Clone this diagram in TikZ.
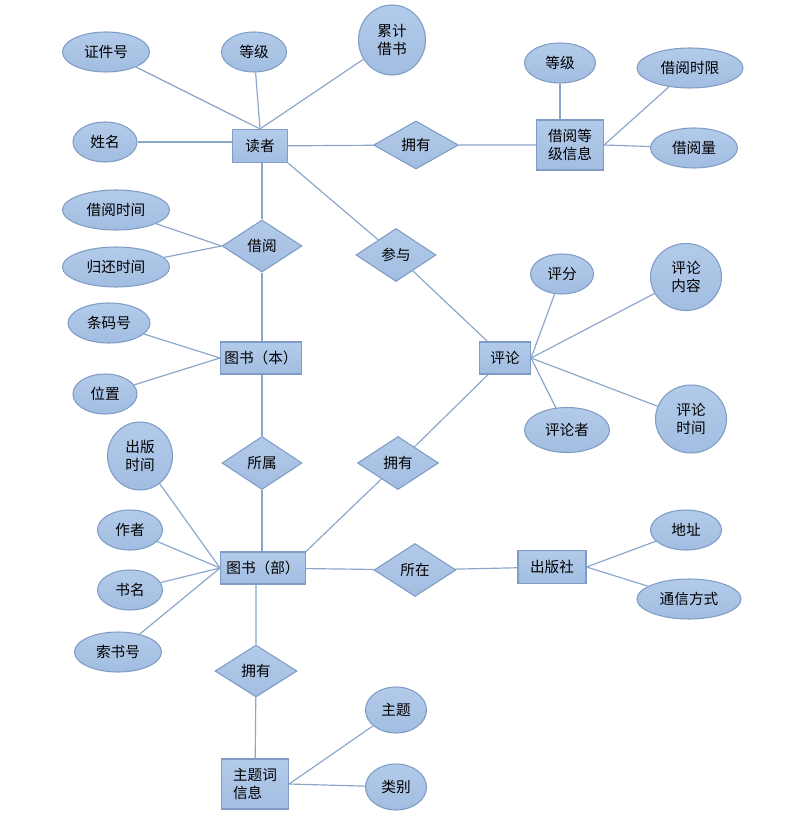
\documentclass[tikz,border=0pt]{standalone}
\usepackage{fontspec}
\setmainfont{Noto Sans CJK SC}
\usetikzlibrary{shapes.geometric}
\definecolor{shapetop}{HTML}{B3CBEA}
\definecolor{shapebot}{HTML}{A2BDE1}
\definecolor{shapeline}{HTML}{7E9CC5}
\definecolor{linkline}{HTML}{8BA6C9}
\begin{document}
\begin{tikzpicture}[x=0.03cm, y=-0.03cm,
    every node/.style={font=\fontsize{12.5}{15}\selectfont, inner sep=0pt,
        draw=shapeline, line width=0.9pt, top color=shapetop, bottom color=shapebot},
    entity/.style={rectangle},
    relation/.style={diamond},
    attr/.style={ellipse},
    link/.style={draw=linkline, line width=1pt}]
\useasboundingbox (0,0) rectangle (805,825);
% entities
\node[entity, minimum width=55*0.03cm, minimum height=33*0.03cm] (dz) at (260,146) {读者};
\node[entity, minimum width=67*0.03cm, minimum height=50*0.03cm, align=center] (jdxx) at (570,145) {借阅等\\级信息};
\node[entity, minimum width=81*0.03cm, minimum height=32*0.03cm] (tsb) at (261,358) {图书（本）};
\node[entity, minimum width=51*0.03cm, minimum height=32*0.03cm] (pl) at (505,358) {评论};
\node[entity, minimum width=85*0.03cm, minimum height=32*0.03cm] (tsbu) at (263,568) {图书（部）};
\node[entity, minimum width=68*0.03cm, minimum height=33*0.03cm] (cbs) at (552,567) {出版社};
\node[entity, minimum width=67*0.03cm, minimum height=50*0.03cm, align=left] (ztc) at (255,784) {主题词\\信息};
% relations
\node[relation, minimum width=85*0.03cm, minimum height=48*0.03cm] (yy1) at (416,145) {拥有};
\node[relation, minimum width=80*0.03cm, minimum height=52*0.03cm] (jy) at (262,246) {借阅};
\node[relation, minimum width=80*0.03cm, minimum height=53*0.03cm] (cy) at (396,255) {参与};
\node[relation, minimum width=80*0.03cm, minimum height=53*0.03cm] (ss) at (262,463) {所属};
\node[relation, minimum width=81*0.03cm, minimum height=53*0.03cm] (yy2) at (398,463) {拥有};
\node[relation, minimum width=82*0.03cm, minimum height=53*0.03cm] (sz) at (415,570) {所在};
\node[relation, minimum width=82*0.03cm, minimum height=52*0.03cm] (yy3) at (256,671) {拥有};
% attributes
\node[attr, minimum width=87*0.03cm, minimum height=40*0.03cm] (zjh) at (106,52) {证件号};
\node[attr, minimum width=65*0.03cm, minimum height=40*0.03cm] (dj1) at (254,52) {等级};
\node[attr, minimum width=67*0.03cm, minimum height=70*0.03cm, align=center] (ljjs) at (392,40) {累计\\借书};
\node[attr, minimum width=64*0.03cm, minimum height=40*0.03cm] (xm) at (105,142) {姓名};
\node[attr, minimum width=107*0.03cm, minimum height=40*0.03cm] (jysj) at (116,210) {借阅时间};
\node[attr, minimum width=107*0.03cm, minimum height=40*0.03cm] (ghsj) at (116,267) {归还时间};
\node[attr, minimum width=71*0.03cm, minimum height=40*0.03cm] (dj2) at (560,63) {等级};
\node[attr, minimum width=106*0.03cm, minimum height=40*0.03cm] (jysx) at (690,68) {借阅时限};
\node[attr, minimum width=87*0.03cm, minimum height=40*0.03cm] (jyl) at (694,148) {借阅量};
\node[attr, minimum width=82*0.03cm, minimum height=40*0.03cm] (tmh) at (109,323) {条码号};
\node[attr, minimum width=64*0.03cm, minimum height=40*0.03cm] (wz) at (105,394) {位置};
\node[attr, minimum width=63*0.03cm, minimum height=40*0.03cm] (pf) at (562,274) {评分};
\node[attr, minimum width=71*0.03cm, minimum height=67*0.03cm, align=center] (plnr) at (686,277) {评论\\内容};
\node[attr, minimum width=85*0.03cm, minimum height=45*0.03cm] (plz) at (567,430) {评论者};
\node[attr, minimum width=71*0.03cm, minimum height=68*0.03cm, align=center] (plsj) at (691,419) {评论\\时间};
\node[attr, minimum width=65*0.03cm, minimum height=68*0.03cm, align=center] (cbsj) at (140,456) {出版\\时间};
\node[attr, minimum width=65*0.03cm, minimum height=40*0.03cm] (zz) at (130,530) {作者};
\node[attr, minimum width=65*0.03cm, minimum height=40*0.03cm] (sm) at (130,590) {书名};
\node[attr, minimum width=87*0.03cm, minimum height=40*0.03cm] (ssh) at (118,652) {索书号};
\node[attr, minimum width=71*0.03cm, minimum height=40*0.03cm] (dzhi) at (686,530) {地址};
\node[attr, minimum width=104*0.03cm, minimum height=40*0.03cm] (txfs) at (689,599) {通信方式};
\node[attr, minimum width=61*0.03cm, minimum height=46*0.03cm] (zt) at (396,710) {主题};
\node[attr, minimum width=61*0.03cm, minimum height=46*0.03cm] (lb) at (396,787) {类别};
% connectors
\draw[link] (zjh) -- (dz.north);
\draw[link] (dj1) -- (dz.north);
\draw[link] (ljjs) -- (dz.north);
\draw[link] (xm) -- (xm -| dz.west);
\draw[link] (dz) -- (yy1) -- (jdxx);
\draw[link] (jy |- dz.south) -- (jy);
\draw[link] (dz.south east) -- (cy);
\draw[link] (jysj) -- (jy.west);
\draw[link] (ghsj) -- (jy.west);
\draw[link] (dj2) -- (dj2 |- jdxx.north);
\draw[link] (jysx) -- (jdxx.east);
\draw[link] (jyl) -- (jdxx.east);
\draw[link] (jy) -- (jy |- tsb.north);
\draw[link] (tmh) -- (tsb.west);
\draw[link] (wz) -- (tsb.west);
\draw[link] (cy) -- (pl);
\draw[link] (pf) -- (pl.east);
\draw[link] (plnr) -- (pl.east);
\draw[link] (plsj) -- (pl.east);
\draw[link] (plz) -- (pl.east);
\draw[link] (ss |- tsb.south) -- (ss) -- (ss |- tsbu.north);
\draw[link] (tsbu.north east) -- (yy2) -- (pl);
\draw[link] (cbsj) -- (tsbu.west);
\draw[link] (zz) -- (tsbu.west);
\draw[link] (sm) -- (tsbu.west);
\draw[link] (ssh) -- (tsbu.west);
\draw[link] (tsbu) -- (sz) -- (cbs);
\draw[link] (dzhi) -- (cbs.east);
\draw[link] (txfs) -- (cbs.east);
\draw[link] (yy3 |- tsbu.south) -- (yy3) -- (ztc);
\draw[link] (zt) -- (ztc.east);
\draw[link] (lb) -- (ztc.east);
\end{tikzpicture}
\end{document}
